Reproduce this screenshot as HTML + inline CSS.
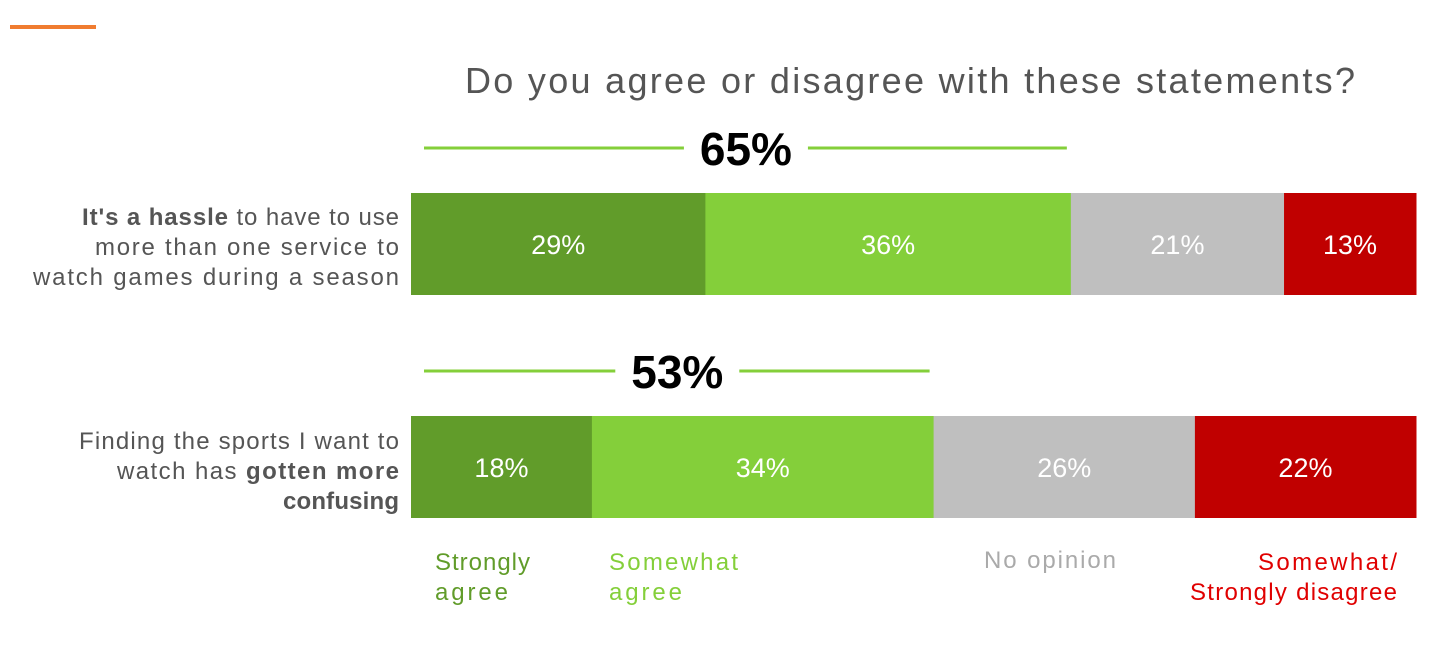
<!DOCTYPE html>
<html><head><meta charset="utf-8"><style>
body{margin:0;width:1454px;height:645px;background:#fff;overflow:hidden;font-family:"Liberation Sans",sans-serif;}
</style></head><body>
<svg width="1454" height="645" style="display:block">
<rect x="10" y="25" width="86" height="4" fill="#f07c30"/>
<text x="465" y="93" textLength="890" lengthAdjust="spacing" font-size="36" fill="#555">Do you agree or disagree with these statements?</text>
<g id="bars"></g>
<g font-size="24" fill="#555">
<text x="82" y="225" textLength="317" lengthAdjust="spacing"><tspan font-weight="bold">It's a hassle</tspan> to have to use</text>
<text x="95" y="255" textLength="304" lengthAdjust="spacing">more than one service to</text>
<text x="33" y="285" textLength="366" lengthAdjust="spacing">watch games during a season</text>
</g>
<g font-size="24" fill="#555">
<text x="79" y="449" textLength="320" lengthAdjust="spacing">Finding the sports I want to</text>
<text x="117" y="479" textLength="282" lengthAdjust="spacing">watch has <tspan font-weight="bold">gotten more</tspan></text>
<text x="283" y="509" textLength="116" lengthAdjust="spacing" font-weight="bold">confusing</text>
</g>
<g font-size="24">
<g fill="#619c2a"><text x="435" y="570" textLength="95">Strongly</text><text x="435" y="600" textLength="73">agree</text></g>
<g fill="#84cf3a"><text x="609" y="570" textLength="129">Somewhat</text><text x="609" y="600" textLength="73">agree</text></g>
<g fill="#aaa"><text x="984" y="568" textLength="132">No opinion</text></g>
<g fill="#e00000"><text x="1258" y="570" textLength="139">Somewhat/</text><text x="1190" y="600" textLength="207">Strongly disagree</text></g>
</g>
</svg>
<script>
const rows = ["hassle", "confusing"];
const strongly = [29, 18];
const somewhat = [36, 34];
const noOpinion = [21, 26];
const disagree = [13, 22];
const agreeTotals = ["65%", "53%"];
const colors = ["#619c2a", "#84cf3a", "#bfbfbf", "#c00000"];
const x0 = 411, x1 = 1416, rowY = [193, 416], barH = 102;
const ns = "http://www.w3.org/2000/svg";
const g = document.getElementById('bars');
function mk(t, a){const e=document.createElementNS(ns,t);for(const k in a)e.setAttribute(k,a[k]);g.appendChild(e);return e;}
rows.forEach((r, i) => {
  const vals = [strongly[i], somewhat[i], noOpinion[i], disagree[i]];
  const tot = vals.reduce((a,b)=>a+b,0);
  const sx = v => (x1 - x0) * v / tot;
  let x = x0;
  vals.forEach((v, j) => {
    const w = sx(v);
    const rc = mk('rect', {x: x, y: rowY[i], width: w + 0.5, height: barH, fill: colors[j]});
    
    
    const t = mk('text', {x: x + w / 2, y: rowY[i] + barH / 2 + 10, 'text-anchor': 'middle', 'font-size': 27, fill: '#fff'});
    t.textContent = v + '%';
    
    
    x += w;
  });
  const agreeEnd = x0 + sx(strongly[i] + somewhat[i]);
  const mid = (x0 + agreeEnd) / 2 + 5;
  const ly = rowY[i] - 45;
  const l1 = mk('line', {x1: x0 + 13, x2: mid - 62, y1: ly, y2: ly, stroke: '#84cf3a', 'stroke-width': 3});
  
  
  const l2 = mk('line', {x1: mid + 62, x2: agreeEnd - 4, y1: ly, y2: ly, stroke: '#84cf3a', 'stroke-width': 3});
  
  
  const tt = mk('text', {x: mid, y: ly + 17, 'text-anchor': 'middle', 'font-size': 46, 'font-weight': 'bold', fill: '#000'});
  tt.textContent = agreeTotals[i];
  
  
});
</script>
</body></html>
